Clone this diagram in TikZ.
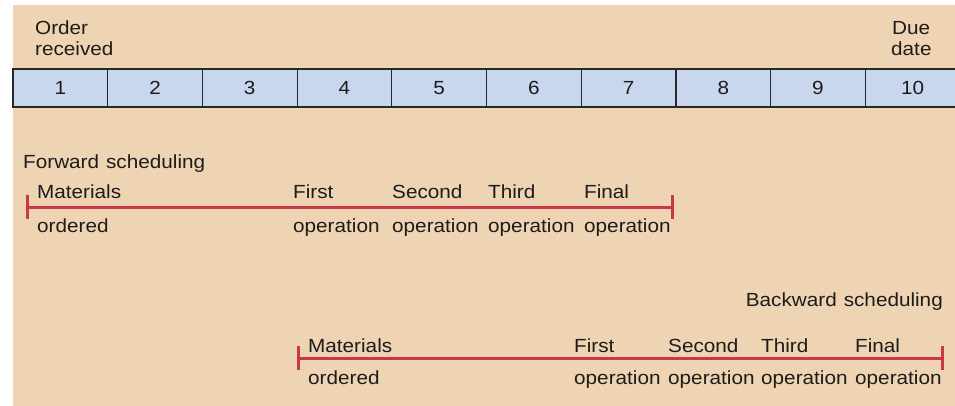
\documentclass[tikz,border=0pt]{standalone}
\usepackage{fontspec}
\setmainfont{Liberation Sans}[FakeStretch=1.09]
\usetikzlibrary{arrows.meta}
\definecolor{bg}{RGB}{238,212,178}
\definecolor{cellblue}{RGB}{200,214,238}
\definecolor{redl}{RGB}{200,56,72}
\definecolor{txt}{RGB}{30,27,28}
\definecolor{edge}{RGB}{40,40,40}
\newcommand{\lblfont}{\fontsize{19}{21}\selectfont\spaceskip=7pt plus 2pt minus 1pt\relax}
\begin{document}
\begin{tikzpicture}[x=1pt,y=-1pt,
  lbl/.style={anchor=base west, inner sep=0pt, text=txt, font=\lblfont},
  cellbox/.style={draw=edge, line width=1.2pt, fill=cellblue, minimum width=94.7pt, minimum height=38pt, inner sep=0pt, text=txt, font=\lblfont},
  schedline/.style={draw=redl, line width=3pt, {Bar[width=24pt,line width=3pt]}-{Bar[width=24pt,line width=3pt]}}
]
\useasboundingbox (0,0) rectangle (955,406);
\fill[bg] (13,5) rectangle (956,407);
% timeline cells
\foreach \i in {1,...,10} {
  \node[cellbox] (c\i) at ({13+(\i-0.5)*94.7},88) {\i};
}
% header labels
\node[lbl] (ord1) at (35,35) {Order};
\node[lbl] (ord2) at (35,56) {received};
\node[lbl] (due1) at (892,35) {Due};
\node[lbl] (due2) at (891,56) {date};
% forward scheduling
\node[lbl] (fwd) at (23,168) {Forward scheduling};
\coordinate (fs) at (26,207);
\coordinate (fe) at (674,207);
\draw[schedline] (fs) -- (fe);
\node[lbl] (fm1) at (37,199) {Materials};
\node[lbl] (fm2) at (37,232) {ordered};
\node[lbl] (f11) at (293,199) {First};
\node[lbl] (f12) at (293,232) {operation};
\node[lbl] (f21) at (392,199) {Second};
\node[lbl] (f22) at (392,232) {operation};
\node[lbl] (f31) at (488,199) {Third};
\node[lbl] (f32) at (488,232) {operation};
\node[lbl] (f41) at (584,199) {Final};
\node[lbl] (f42) at (584,232) {operation};
% backward scheduling
\node[lbl, anchor=base east] (bwd) at (943,306) {Backward scheduling};
\coordinate (bs) at (297,358);
\coordinate (be) at (944,358);
\draw[schedline] (bs) -- (be);
\node[lbl] (bm1) at (308,352) {Materials};
\node[lbl] (bm2) at (308,384) {ordered};
\node[lbl] (b11) at (574,352) {First};
\node[lbl] (b12) at (574,384) {operation};
\node[lbl] (b21) at (668,352) {Second};
\node[lbl] (b22) at (668,384) {operation};
\node[lbl] (b31) at (761,352) {Third};
\node[lbl] (b32) at (761,384) {operation};
\node[lbl] (b41) at (855,352) {Final};
\node[lbl] (b42) at (855,384) {operation};
\end{tikzpicture}
\end{document}
